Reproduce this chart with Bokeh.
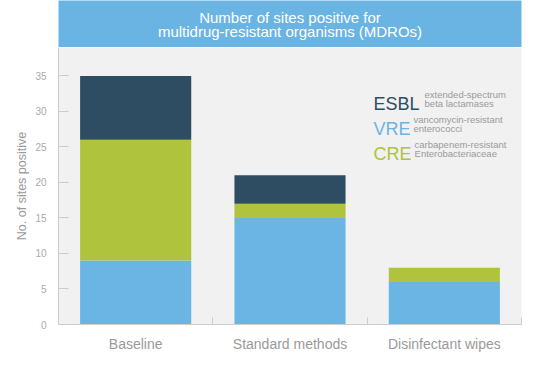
from bokeh.plotting import figure
from bokeh.models import (ColumnDataSource, Range1d, LinearAxis, FixedTicker,
                          SingleIntervalTicker, Label)
from bokeh.layouts import column
from bokeh.embed import file_html
from bokeh.resources import INLINE

# ---- data ----
categories = ["Baseline", "Standard methods", "Disinfectant wipes"]
vre = [9, 15, 6]
cre = [17, 2, 2]
esbl = [9, 4, 0]
series = ["VRE", "CRE", "ESBL"]
legend_codes = ["ESBL", "VRE", "CRE"]
legend_desc = [["extended-spectrum", "beta lactamases"],
               ["vancomycin-resistant", "enterococci"],
               ["carbapenem-resistant", "Enterobacteriaceae"]]
title_lines = ["Number of sites positive for", "multidrug-resistant organisms (MDROs)"]
y_label = "No. of sites positive"

# ---- styles ----
FONT = "Liberation Sans"
C_ESBL = "#2e4c62"
C_VRE = "#6bb5e4"
C_CRE = "#afc33c"
C_HEAD = "#6ab4e4"
C_PANEL = "#f1f1f1"
C_TEXT = "#9a9a9a"
colors = {"VRE": C_VRE, "CRE": C_CRE, "ESBL": C_ESBL}

W = 534
ML, MR = 58, 13

# ---- header ----
head = figure(width=W, height=47, x_range=Range1d(0, 1), y_range=Range1d(0, 1),
              output_backend="svg", toolbar_location=None, title=None,
              x_axis_location=None, y_axis_location=None,
              min_border_left=ML, min_border_right=MR, min_border_top=0, min_border_bottom=0)
head.background_fill_color = C_HEAD
head.border_fill_color = "white"
head.outline_line_color = None
head.grid.visible = False
for txt, yy in zip(title_lines, [0.635, 0.34]):
    head.add_layout(Label(x=0.5, y=yy, text=txt, text_align="center", text_baseline="alphabetic",
                          text_color="white", text_font=FONT, text_font_size="15px"))

# ---- main chart ----
n = len(categories)
centers = [i + 0.5 for i in range(n)]
src = ColumnDataSource(dict(x=centers, VRE=vre, CRE=cre, ESBL=esbl))

p = figure(width=W, height=311, x_range=Range1d(0, n), y_range=Range1d(0, 39),
           output_backend="svg", toolbar_location=None, title=None,
           x_axis_location=None,
           min_border_left=ML, min_border_right=MR, min_border_top=0, min_border_bottom=34)
p.background_fill_color = C_PANEL
p.border_fill_color = "white"
p.outline_line_color = None
p.grid.visible = False

p.vbar_stack(series, x="x", width=0.72, source=src,
             color=[colors[s] for s in series], line_color=None)

# y axis
ya = p.yaxis[0]
ya.ticker = SingleIntervalTicker(interval=5)
ya.axis_line_color = "#cccccc"
ya.major_tick_in = 10
ya.major_tick_out = 0
ya.major_tick_line_color = "#cccccc"
ya.minor_tick_line_color = None
ya.major_label_text_color = "#aaaaaa"
ya.major_label_text_font = FONT
ya.major_label_text_font_size = "10px"
ya.major_label_standoff = 8
ya.axis_label = y_label
ya.axis_label_text_font = FONT
ya.axis_label_text_font_size = "12.5px"
ya.axis_label_text_font_style = "normal"
ya.axis_label_text_color = C_TEXT
ya.axis_label_standoff = 3

# separator ticks along x (category boundaries)
sep_ticks = list(range(1, n + 1))
sep = LinearAxis(ticker=FixedTicker(ticks=sep_ticks),
                 major_label_overrides={t: "" for t in sep_ticks})
sep.axis_line_color = "#cccccc"
sep.major_tick_in = 7
sep.major_tick_out = 0
sep.major_tick_line_color = "#cccccc"
sep.minor_tick_line_color = None
sep.major_label_text_font_size = "1px"
sep.major_label_standoff = 0
p.add_layout(sep, "below")

# category labels
cat = LinearAxis(ticker=FixedTicker(ticks=centers),
                 major_label_overrides={c: name for c, name in zip(centers, categories)})
cat.axis_line_color = None
cat.major_tick_line_color = None
cat.minor_tick_line_color = None
cat.major_label_text_color = C_TEXT
cat.major_label_text_font = FONT
cat.major_label_text_font_size = "14px"
cat.major_label_standoff = 5
p.add_layout(cat, "below")

# legend (custom text block)
big_x = 2.041
desc_x = [2.372, 2.300, 2.307]
big_y = [31.10, 27.58, 24.06]
desc_y = [[32.37, 31.10], [28.85, 27.58], [25.32, 24.06]]
for code, by, dx, dl, dy in zip(legend_codes, big_y, desc_x, legend_desc, desc_y):
    p.add_layout(Label(x=big_x, y=by, text=code, text_font=FONT,
                       text_font_size="18px", text_color=colors[code], text_baseline="alphabetic"))
    for line, ly in zip(dl, dy):
        p.add_layout(Label(x=dx, y=ly, text=line, text_font=FONT,
                           text_font_size="9.5px", text_color=C_TEXT, text_baseline="alphabetic"))

layout = column(head, p, spacing=0)
open("out.html", "w").write(file_html(layout, INLINE))
